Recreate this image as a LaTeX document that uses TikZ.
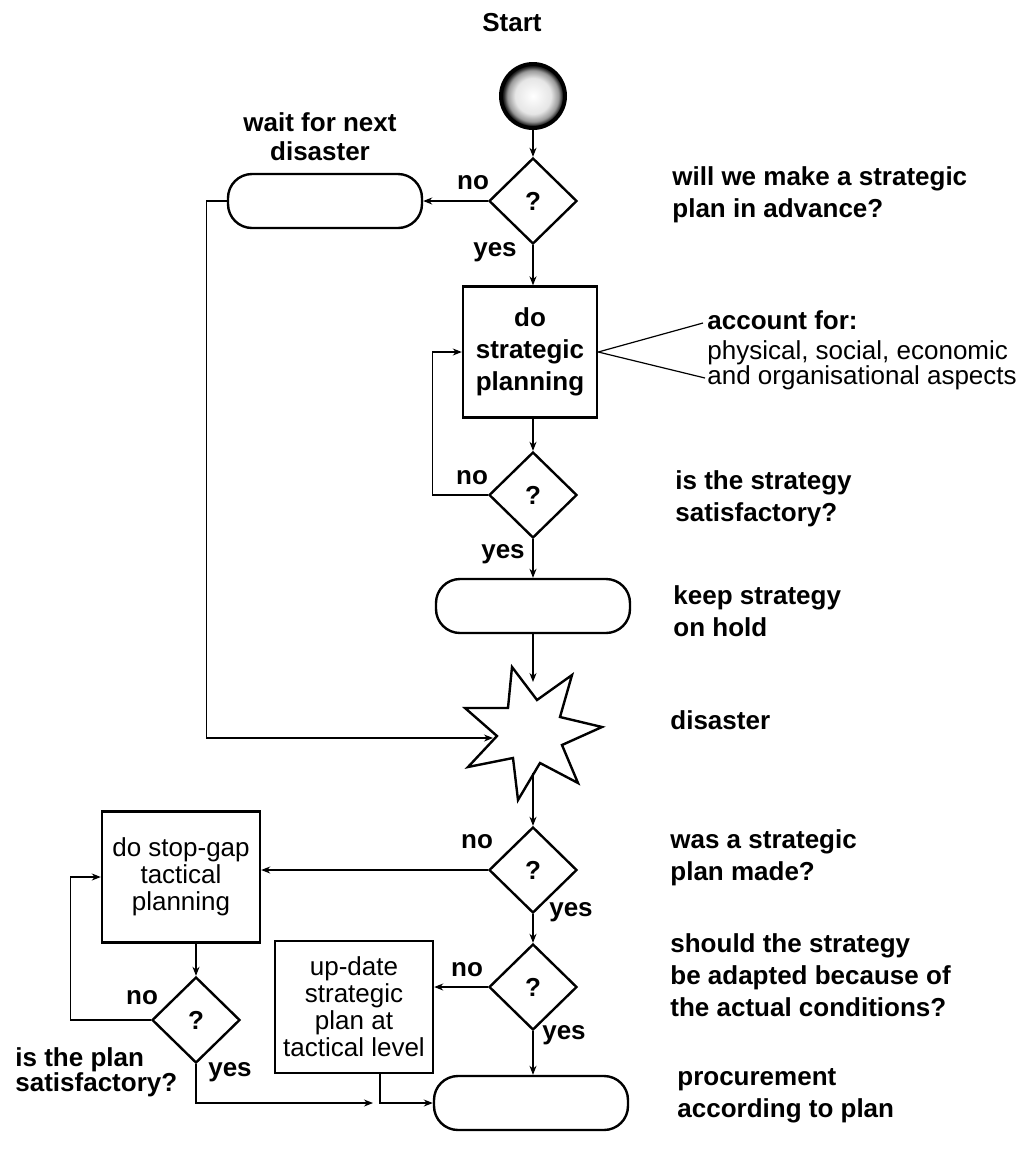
\documentclass[tikz,border=0pt]{standalone}
\usepackage{fontspec}
\setmainfont{Liberation Sans}
\usetikzlibrary{shapes.geometric, arrows.meta}

\newcommand{\chartfont}{\fontsize{13pt}{16pt}\selectfont}
\pgfdeclareradialshading{startball}{\pgfpoint{0bp}{0bp}}{color(0bp)=(white); color(14bp)=(white!90!black); color(20bp)=(black!40); color(23bp)=(black!85); color(25bp)=(black); color(50bp)=(black)}
\tikzset{
  question/.style={diamond, draw, line width=1.2pt, minimum width=44pt, minimum height=43pt, inner sep=0pt, font=\chartfont\bfseries},
  hold/.style={rectangle, rounded corners=12pt, draw, line width=1.2pt, minimum width=97pt, minimum height=27pt},
  plan/.style={rectangle, draw, line width=1.2pt, align=center, inner sep=0pt, font=\chartfont},
  lbl/.style={font=\chartfont\bfseries, inner sep=0pt},
  remark/.style={font=\chartfont\bfseries, align=left, anchor=west, inner sep=0pt},
  flow/.style={-{Stealth[length=4.5pt,width=3.5pt]}, line width=0.6pt},
}

\begin{document}
\begin{tikzpicture}[x=0.5pt, y=-0.5pt]
\useasboundingbox (0,0) rectangle (1020,1158);

\node[lbl] (start) at (512,23) {Start};
\node[circle, draw, line width=2pt, minimum size=32pt, shading=startball] (ball) at (533,96) {};
\node[question] (q1) at (533,201) {?};
\node[hold] (wait) at (325,201) {};
\node[lbl, align=center] (waittxt) at (320,137) {wait for next\\[-1.5pt]disaster};
\node[plan, font=\chartfont\bfseries, minimum width=67pt, minimum height=65.5pt] (box1) at (530,352) {do\\strategic\\planning};
\node[question] (q2) at (533,495) {?};
\node[hold] (keep) at (533,606) {};
\coordinate (starT) at (533,682);
\coordinate (starL) at (493,738);
\coordinate (starB) at (533,773);
\draw[line width=1.2pt, line join=miter] (512,667) -- (537,700) -- (572,675) -- (560,717) -- (602,727) -- (562,745) -- (578,783) -- (540,763) -- (518,800) -- (513,758) -- (468,767) -- (497,736) -- (465,708) -- (508,708) -- cycle;
\node[question] (q3) at (533,870) {?};
\node[question] (q4) at (533,987) {?};
\node[hold] (proc) at (531,1103) {};
\node[plan, minimum width=79pt, minimum height=65.5pt] (gap) at (181,877) {do stop-gap\\[-2.5pt]tactical\\[-2.5pt]planning};
\node[plan, minimum width=79pt, minimum height=66pt] (upd) at (354,1007) {up-date\\[-2.5pt]strategic\\[-2.5pt]plan at\\[-2.5pt]tactical level};
\node[question] (q5) at (196,1020) {?};

\node[lbl] (q1no) at (473,183) {no};
\node[lbl] (q1yes) at (495,252) {yes};
\node[lbl] (q2no) at (472,478) {no};
\node[lbl] (q2yes) at (503,554) {yes};
\node[lbl] (q3no) at (477,842) {no};
\node[lbl] (q3yes) at (571,912) {yes};
\node[lbl] (q4no) at (467,970) {no};
\node[lbl] (q4yes) at (564,1035) {yes};
\node[lbl] (q5no) at (142,998) {no};
\node[lbl] (q5yes) at (230,1072) {yes};

\node[remark] (r1) at (672,195) {will we make a strategic\\plan in advance?};
\node[remark, font=\chartfont] (acc) at (707,350) {\textbf{account for:}\\[-1pt]physical, social, economic\\[-3.5pt]and organisational aspects};
\node[remark] (r2) at (675,499) {is the strategy\\satisfactory?};
\node[remark] (r3) at (673,611) {keep strategy\\on hold};
\node[remark] (r4) at (670,720) {disaster};
\node[remark] (r5) at (670,858) {was a strategic\\plan made?};
\node[remark] (r6) at (670,975) {should the strategy\\be adapted because of\\the actual conditions?};
\node[remark] (r7) at (677,1096) {procurement\\according to plan};
\node[remark] (r8) at (15,1072) {is the plan\\[-3.5pt]satisfactory?};

\coordinate (acc1) at (703,323);
\coordinate (acc2) at (705,378);
\coordinate (updout) at (380,1073);
\coordinate (gapend) at (373,1103);

\draw[flow] (ball) -- (q1);
\draw[flow] (q1) -- (wait);
\draw[flow] (q1.south) -- (q1.south |- box1.north);
\draw[flow] (box1.south -| q2.north) -- (q2.north);
\draw[flow] (q2.west) -- ++(-55,0) |- (box1.west);
\draw[flow] (q2) -- (keep);
\draw[flow] (keep) -- (starT);
\draw[flow] (wait.west) -- ++(-20,0) |- (starL);
\draw[flow] (starB) -- (q3);
\draw[flow] (q3.west) -- (q3.west -| gap.east);
\draw[flow] (q3) -- (q4);
\draw[flow] (q4.west) -- (q4.west -| upd.east);
\draw[flow] (q4.south) -- (q4.south |- proc.north);
\draw[flow] (gap.south -| q5.north) -- (q5.north);
\draw[flow] (q5.west) -- ++(-80,0) |- (gap.west);
\draw[flow] (updout) |- (proc.west);
\draw[flow] (q5.south) |- (gapend);
\draw[line width=0.6pt] (acc1) -- (box1.east) -- (acc2);
\end{tikzpicture}
\end{document}
